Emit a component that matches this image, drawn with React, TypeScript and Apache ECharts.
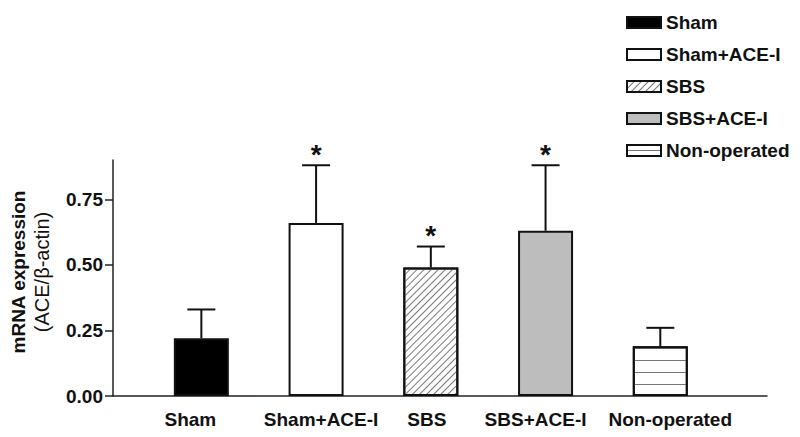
import React, { useEffect, useRef } from 'react';
import * as echarts from 'echarts';

const categories = ['Sham', 'Sham+ACE-I', 'SBS', 'SBS+ACE-I', 'Non-operated'];
const means = [0.22, 0.66, 0.49, 0.63, 0.19];
const errors = [0.11, 0.22, 0.08, 0.25, 0.07];
const significant = [0, 1, 1, 1, 0];
const yTicks = [0, 0.25, 0.5, 0.75];
const xPositions = [0, 1, 2, 3, 4];

const FONT = "'Liberation Sans', Arial, Helvetica, sans-serif";

export default function App() {
  const ref = useRef<HTMLDivElement>(null);
  useEffect(() => {
    if (!ref.current) return;
    const chart = echarts.init(ref.current, undefined, { renderer: 'svg' });

    const hLines = (gap: number) => ({
      symbol: 'rect',
      symbolSize: 1,
      dashArrayX: [1, 0],
      dashArrayY: [1, gap],
      rotation: 0,
      color: '#777777',
    });

    const styles: any[] = [
      { color: '#000000' },
      { color: '#ffffff' },
      {
        color: '#ffffff',
        decal: {
          symbol: 'rect',
          symbolSize: 1,
          dashArrayX: [1, 0],
          dashArrayY: [1, 4],
          rotation: -Math.PI / 4,
          color: '#7a7a7a',
        },
      },
      { color: '#bdbdbd' },
      { color: '#ffffff', decal: hLines(11) },
    ];

    const barSeries = categories.map((name, i) => ({
      name,
      type: 'bar',
      barWidth: 55,
      barGap: '-100%',
      data: [[xPositions[i], means[i]]],
      itemStyle: { ...styles[i], borderColor: '#111', borderWidth: 2 },
      z: 2,
    }));

    const errData = categories.map((_, i) => [xPositions[i], means[i], errors[i], significant[i]]);

    const legendData = categories.map((name, i) =>
      i === 4 ? { name, itemStyle: { decal: hLines(4) } } : { name }
    );

    const labelBase = { fontFamily: FONT, fontSize: 19, fontWeight: 'bold', color: '#111' };
    const labelPads: number[][] = [
      [0, 22, 0, 0],
      [0, 0, 0, 10],
      [0, 8, 0, 0],
      [0, 20, 0, 0],
      [0, 0, 0, 20],
    ];
    const rich: any = {};
    labelPads.forEach((p, i) => {
      rich['c' + i] = { ...labelBase, padding: p };
    });

    const option: any = {
      animation: false,
      grid: { left: 113, right: 33, top: 160, bottom: 41 },
      legend: {
        data: legendData,
        orient: 'vertical',
        left: 626,
        top: 13,
        padding: 0,
        itemWidth: 34,
        itemHeight: 11,
        itemGap: 13,
        icon: 'rect',
        textStyle: { fontFamily: FONT, fontSize: 19, fontWeight: 'bold', color: '#111' },
        itemStyle: { borderWidth: 2, borderColor: '#111' },
        selectedMode: false,
      },
      xAxis: {
        type: 'value',
        min: -0.77,
        max: 4.93,
        splitLine: { show: false },
        axisLine: { show: true, onZero: false, lineStyle: { color: '#222', width: 1.5 } },
        axisTick: { show: false },
        axisLabel: {
          customValues: xPositions,
          formatter: (v: number) => {
            const i = Math.round(v);
            return categories[i] ? `{c${i}|${categories[i]}}` : '';
          },
          rich,
          ...labelBase,
          margin: 14,
        },
      },
      yAxis: {
        type: 'value',
        min: 0,
        max: 0.9,
        splitLine: { show: false },
        axisLine: { show: true, onZero: false, lineStyle: { color: '#222', width: 1.5 } },
        axisTick: { show: true, customValues: yTicks, length: 8, lineStyle: { color: '#222', width: 1.5 } },
        axisLabel: {
          customValues: yTicks,
          formatter: (v: number) => v.toFixed(2),
          ...labelBase,
          margin: 10,
        },
        name: '{a|mRNA expression}\n{b|(ACE/β-actin)}',
        nameLocation: 'middle',
        nameRotate: 90,
        nameGap: 60,
        nameTextStyle: {
          padding: [0, 0, 0, 12],
          rich: {
            a: { fontFamily: FONT, fontSize: 19, fontWeight: 'bold', color: '#111', lineHeight: 23 },
            b: { fontFamily: FONT, fontSize: 20, color: '#111', lineHeight: 23 },
          },
        },
      },
      series: [
        ...barSeries,
        {
          type: 'custom',
          name: 'error',
          z: 5,
          data: errData,
          encode: { x: 0, y: 1 },
          renderItem: (params: any, api: any) => {
            const x = api.value(0);
            const v = api.value(1);
            const e = api.value(2);
            const s = api.value(3);
            const base = api.coord([x, v]);
            const top = api.coord([x, v + e]);
            const capHalf = 14;
            const children: any[] = [
              { type: 'line', shape: { x1: base[0], y1: base[1], x2: top[0], y2: top[1] }, style: { stroke: '#111', lineWidth: 2 } },
              { type: 'line', shape: { x1: top[0] - capHalf, y1: top[1], x2: top[0] + capHalf, y2: top[1] }, style: { stroke: '#111', lineWidth: 2 } },
            ];
            if (s) {
              children.push({
                type: 'text',
                x: top[0],
                y: top[1] - 11,
                style: { text: '*', fontFamily: FONT, fontSize: 28, fontWeight: 'bold', fill: '#111', align: 'center', verticalAlign: 'middle' },
              });
            }
            return { type: 'group', children };
          },
        },
      ],
    };
    chart.setOption(option);
    return () => chart.dispose();
  }, []);
  return <div ref={ref} style={{ position: 'fixed', left: 0, top: 0, width: 800, height: 437, background: '#fff' }} />;
}
